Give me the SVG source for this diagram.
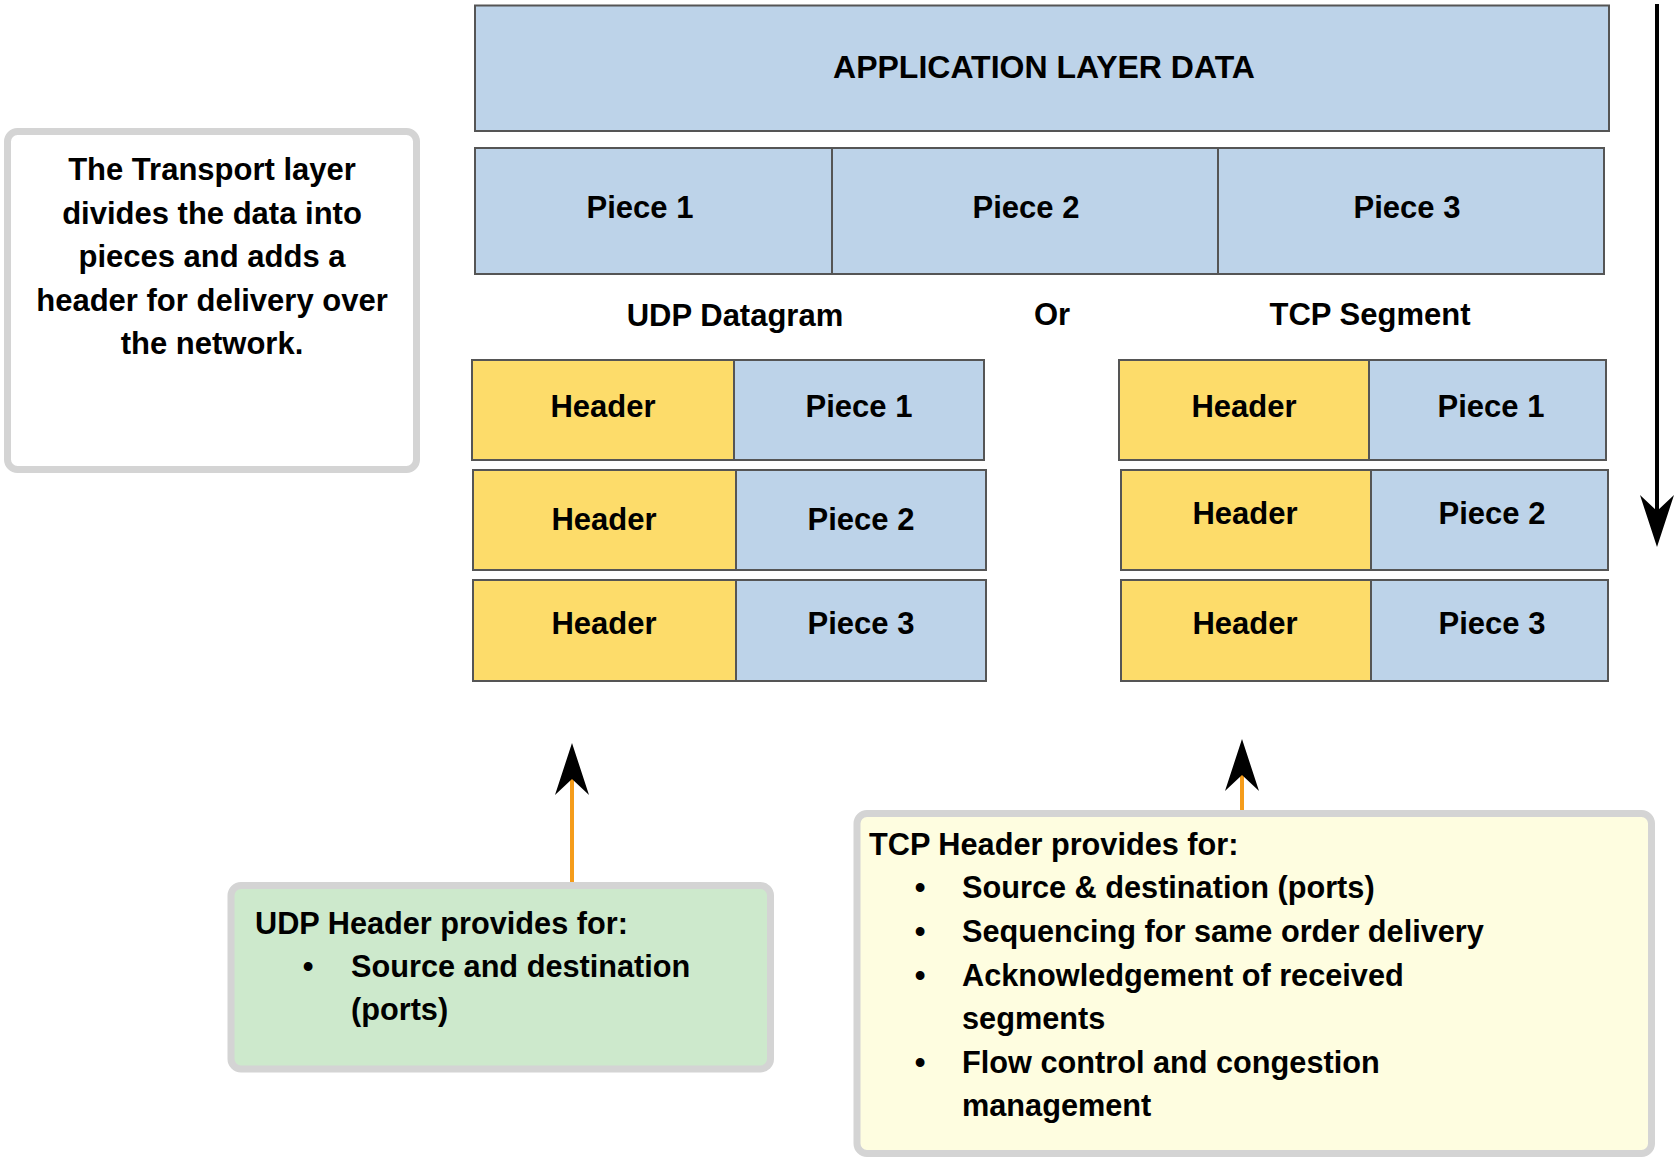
<svg xmlns="http://www.w3.org/2000/svg" width="1674" height="1158" viewBox="0 0 1674 1158">
  <style>
    text { font-family: "Liberation Sans", Arial, sans-serif; font-weight: bold; font-size: 31px; fill: #000; }
    .mid { text-anchor: middle; }
    .body { font-size: 30.7px; }
    .data { fill: #bdd3e9; stroke: #555; stroke-width: 2; }
    .hdr { fill: #fddc6a; stroke: #555; stroke-width: 2; }
    .div { stroke: #555; stroke-width: 2; }
    .note { stroke: #d4d4d4; stroke-width: 7; }
  </style>
  <defs>
    <!-- notched arrowhead; origin sits at the notch so the shaft ends hidden inside it -->
    <marker id="head" markerUnits="userSpaceOnUse" viewBox="-16 -17 52 34" markerWidth="52" markerHeight="34" refX="0" refY="0" orient="auto" overflow="visible">
      <path d="M36,0 L-16,-17 L0,0 L-16,17 Z" fill="#000"/>
    </marker>
  </defs>

  <rect width="1674" height="1158" fill="#fff"/>

  <!-- explanation box -->
  <g id="note-transport">
    <rect class="note" x="7.5" y="131.5" width="409" height="338" rx="10" fill="#fff"/>
    <text class="mid" x="212" y="180">The Transport layer</text>
    <text class="mid" x="212" y="224">divides the data into</text>
    <text class="mid" x="212" y="267">pieces and adds a</text>
    <text class="mid" x="212" y="311">header for delivery over</text>
    <text class="mid" x="212" y="354">the network.</text>
  </g>

  <!-- application data -->
  <g id="app-data">
    <rect class="data" x="475" y="5.5" width="1134" height="125.5"/>
    <text class="mid" x="1044" y="78" style="font-size:32px">APPLICATION LAYER DATA</text>
  </g>

  <!-- split into pieces -->
  <g id="pieces">
    <rect class="data" x="475" y="148" width="1129" height="126"/>
    <line class="div" x1="832" y1="148" x2="832" y2="274"/>
    <line class="div" x1="1218" y1="148" x2="1218" y2="274"/>
    <text class="mid" x="640" y="218">Piece 1</text>
    <text class="mid" x="1026" y="218">Piece 2</text>
    <text class="mid" x="1407" y="218">Piece 3</text>
  </g>

  <!-- column titles -->
  <g id="titles">
    <text class="mid" x="735" y="326">UDP Datagram</text>
    <text class="mid" x="1052" y="325">Or</text>
    <text class="mid" x="1370" y="325">TCP Segment</text>
  </g>

  <!-- UDP datagrams -->
  <g id="udp-1">
    <rect class="hdr" x="472" y="360" width="262" height="100"/>
    <rect class="data" x="734" y="360" width="250" height="100"/>
    <text class="mid" x="603" y="417">Header</text>
    <text class="mid" x="859" y="417">Piece 1</text>
  </g>
  <g id="udp-2">
    <rect class="hdr" x="473" y="470" width="263" height="100"/>
    <rect class="data" x="736" y="470" width="250" height="100"/>
    <text class="mid" x="604" y="530">Header</text>
    <text class="mid" x="861" y="530">Piece 2</text>
  </g>
  <g id="udp-3">
    <rect class="hdr" x="473" y="580" width="263" height="101"/>
    <rect class="data" x="736" y="580" width="250" height="101"/>
    <text class="mid" x="604" y="634">Header</text>
    <text class="mid" x="861" y="634">Piece 3</text>
  </g>

  <!-- TCP segments -->
  <g id="tcp-1">
    <rect class="hdr" x="1119" y="360" width="250" height="100"/>
    <rect class="data" x="1369" y="360" width="237" height="100"/>
    <text class="mid" x="1244" y="417">Header</text>
    <text class="mid" x="1491" y="417">Piece 1</text>
  </g>
  <g id="tcp-2">
    <rect class="hdr" x="1121" y="470" width="250" height="100"/>
    <rect class="data" x="1371" y="470" width="237" height="100"/>
    <text class="mid" x="1245" y="524">Header</text>
    <text class="mid" x="1492" y="524">Piece 2</text>
  </g>
  <g id="tcp-3">
    <rect class="hdr" x="1121" y="580" width="250" height="101"/>
    <rect class="data" x="1371" y="580" width="237" height="101"/>
    <text class="mid" x="1245" y="634">Header</text>
    <text class="mid" x="1492" y="634">Piece 3</text>
  </g>

  <!-- UDP header note -->
  <g id="note-udp" class="body">
    <rect class="note" x="231" y="885.5" width="539.5" height="183.5" rx="10" fill="#cde9cc"/>
    <text class="body" x="255" y="934">UDP Header provides for:</text>
    <text class="body mid" x="308" y="977">•</text>
    <text class="body" x="351" y="977">Source and destination</text>
    <text class="body" x="351" y="1020">(ports)</text>
  </g>

  <!-- TCP header note -->
  <g id="note-tcp">
    <rect class="note" x="857" y="813.5" width="794.5" height="340" rx="10" fill="#fefde0"/>
    <text class="body" x="869" y="855">TCP Header provides for:</text>
    <text class="body mid" x="920" y="898">•</text>
    <text class="body" x="962" y="898">Source &amp; destination (ports)</text>
    <text class="body mid" x="920" y="942">•</text>
    <text class="body" x="962" y="942">Sequencing for same order delivery</text>
    <text class="body mid" x="920" y="986">•</text>
    <text class="body" x="962" y="986">Acknowledgement of received</text>
    <text class="body" x="962" y="1029">segments</text>
    <text class="body mid" x="920" y="1073">•</text>
    <text class="body" x="962" y="1073">Flow control and congestion</text>
    <text class="body" x="962" y="1116">management</text>
  </g>

  <!-- connectors -->
  <g id="connectors">
    <line x1="1657" y1="4" x2="1657" y2="511" stroke="#000" stroke-width="4" marker-end="url(#head)"/>
    <line x1="572" y1="882" x2="572" y2="779" stroke="#f59c1a" stroke-width="4" marker-end="url(#head)"/>
    <line x1="1242" y1="810" x2="1242" y2="775" stroke="#f59c1a" stroke-width="4" marker-end="url(#head)"/>
  </g>
</svg>
